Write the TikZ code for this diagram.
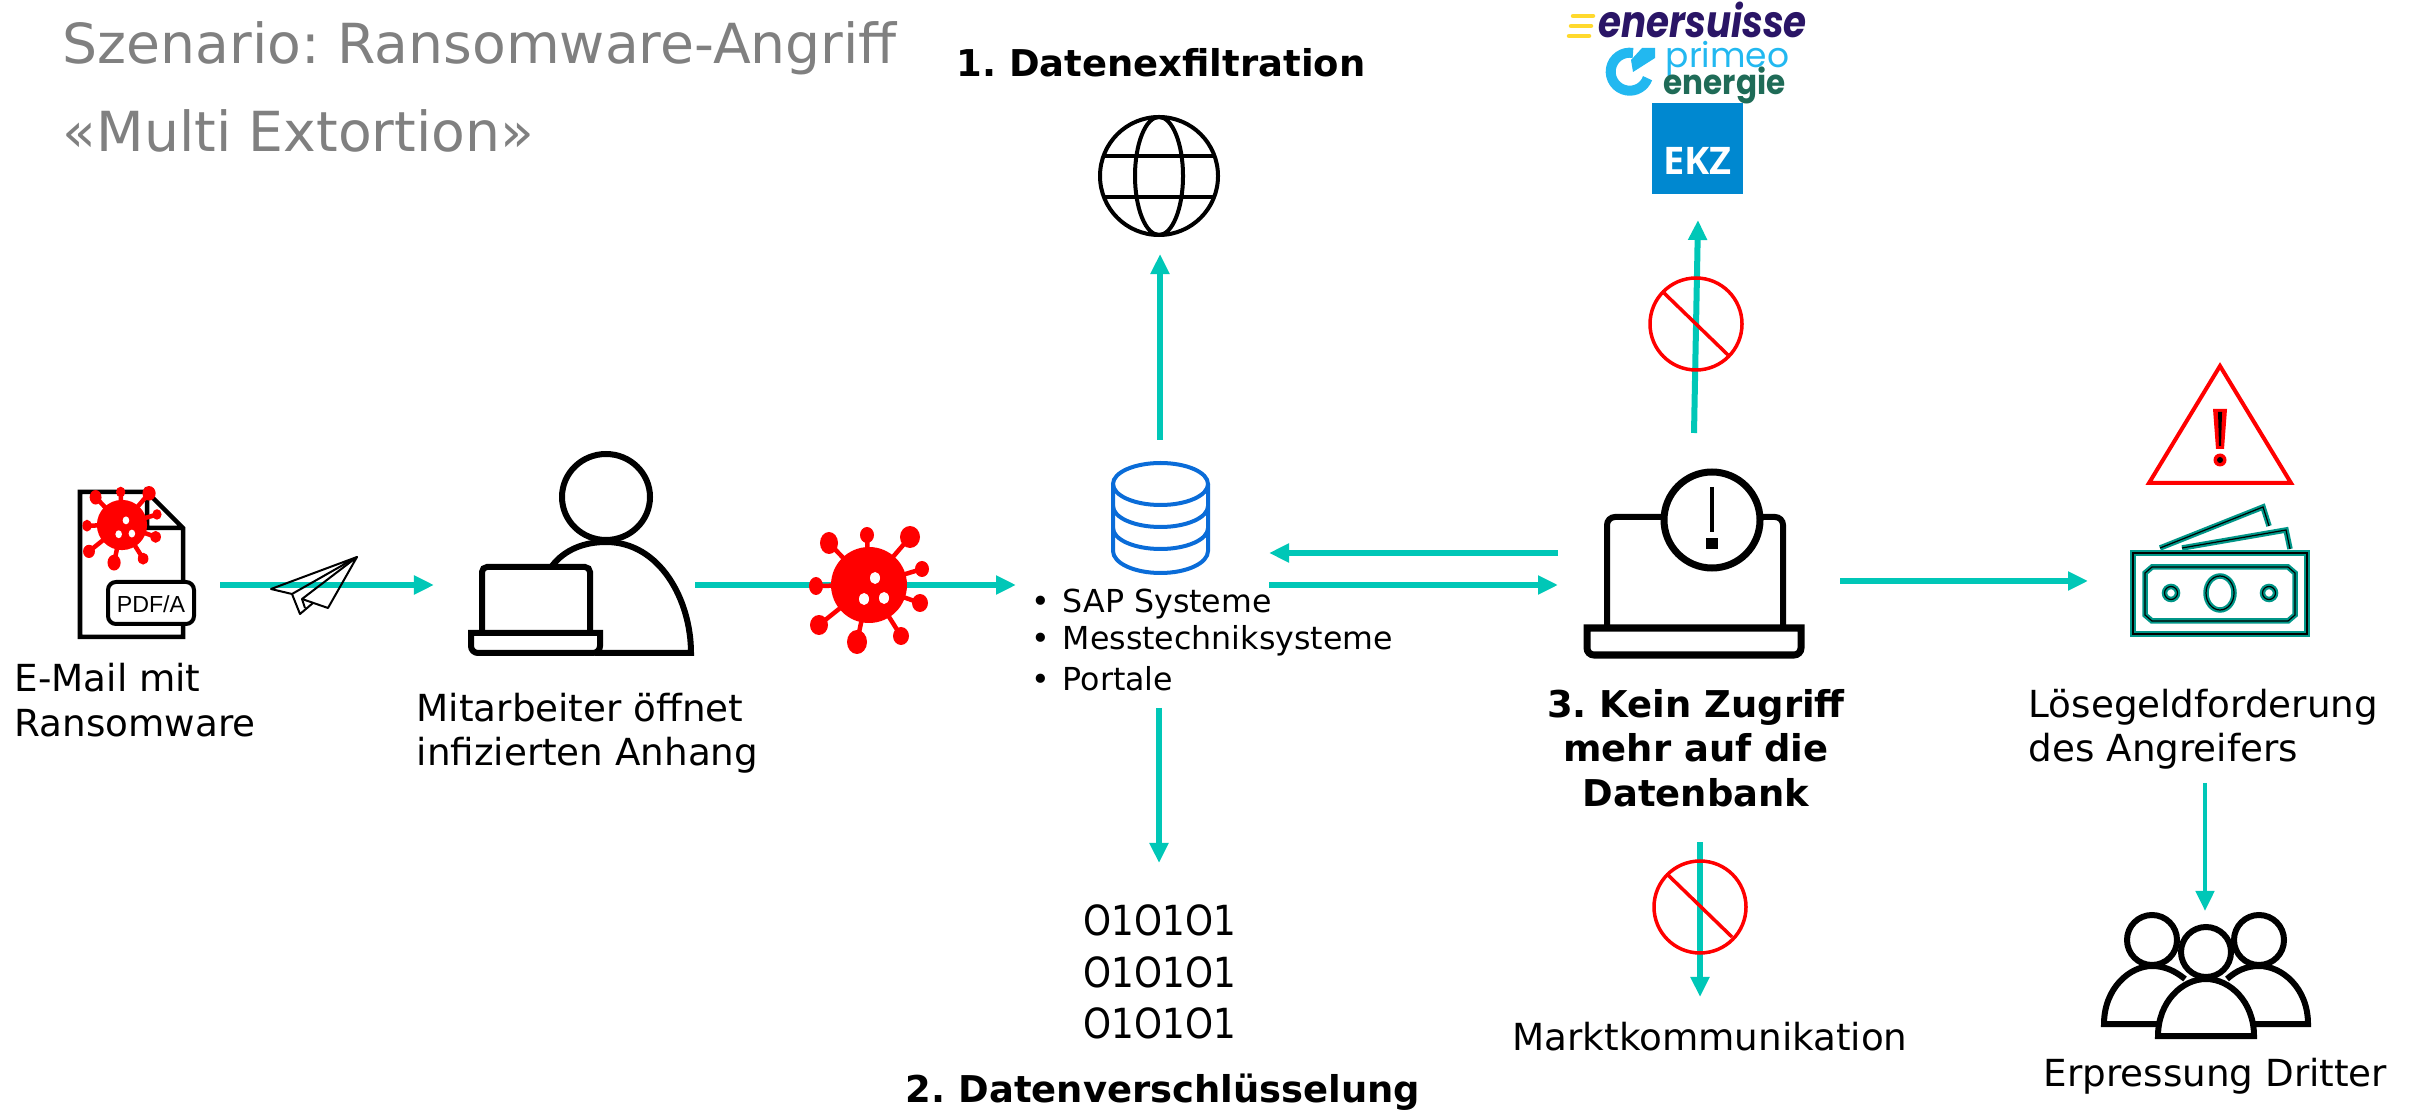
\documentclass[tikz,border=0pt]{standalone}
\usepackage{graphicx}
\usepackage{fontspec}
\setmainfont{DejaVu Sans}
\newfontfamily\logofont{Poppins}
\newfontfamily\ekzfont{Open Sans}
\frenchspacing
\usetikzlibrary{arrows.meta,calc}
\definecolor{flow}{RGB}{0,199,183}
\definecolor{stopred}{RGB}{255,0,0}
\definecolor{dbblue}{RGB}{10,108,216}
\definecolor{moneyteal}{RGB}{0,150,136}
\definecolor{ekzblue}{RGB}{0,136,208}
\definecolor{enerpurple}{RGB}{42,21,102}
\definecolor{primeoblue}{RGB}{34,184,240}
\definecolor{primeogreen}{RGB}{31,107,87}
\definecolor{eneryellow}{RGB}{255,217,45}
\tikzset{
  flowarrow/.style={draw=flow,line width=0.06cm,-{Triangle[length=0.2cm,width=0.18cm]},flow},
  thinflow/.style={flowarrow,line width=0.045cm},
  icon/.style={draw=black,line width=0.06cm},
  dbline/.style={draw=dbblue,line width=0.04cm},
  globeline/.style={draw=black,line width=0.04cm},
  forbid/.style={draw=stopred,line width=0.035cm},
  bodytext/.style={anchor=west,align=left,inner sep=0pt,font=\fontsize{10.6pt}{12.6pt}\selectfont},
  listtext/.style={anchor=west,inner sep=0pt,font=\fontsize{9pt}{11pt}\selectfont},
  headtext/.style={inner sep=0pt,align=center,font=\fontsize{10.5pt}{12.6pt}\selectfont\bfseries},
  titletext/.style={anchor=west,inner sep=0pt,text=black!50,font=\fontsize{15.7pt}{18pt}\selectfont},
  logotext/.style={inner sep=0pt,anchor=base west},
  virus/.pic={
    \foreach \tx/\ty/\rx/\ry in {-40/-42/9/11,-2/-50/7/8,41/-48/10/11,53/-16/7/8,51/18/8/9,32/51/8/9,-12/57/10/12,-50/40/9/10,-53/1/7/9}{
      \draw[stopred,line width=0.045cm] (0,0) -- (\tx,\ty);
      \fill[stopred] (\tx,\ty) ellipse [x radius=\rx,y radius=\ry];
    }
    \fill[stopred] (0,0) ellipse [x radius=38,y radius=38];
    \foreach \tx/\ty in {6/-7,-5/14,15/13}
      \fill[white] (\tx,\ty) ellipse [x radius=5,y radius=6];
  }
}
\begin{document}
\begin{tikzpicture}[x=0.01cm,y=-0.01cm]
\useasboundingbox (0,0) rectangle (2418,1110);

% Title
\node[titletext] (title1) at (62,48) {Szenario: Ransomware-Angriff};
\node[titletext] (title2) at (62,131) {«Multi Extortion»};

% Arrow ends
\coordinate (mailout) at (220,585);
\coordinate (personin) at (434,585);
\coordinate (personout) at (695,585);
\coordinate (dbin) at (1016,585);
\coordinate (dbtoplap) at (1269,585);
\coordinate (lapfromdb) at (1558,585);
\coordinate (laptodb) at (1558,553);
\coordinate (dbfromlap) at (1269,553);
\coordinate (dbup) at (1160,440);
\coordinate (globein) at (1160,254);
\coordinate (dbdown) at (1159,708);
\coordinate (bitsin) at (1159,863);
\coordinate (lapup) at (1694,433);
\coordinate (logoin) at (1698,220);
\coordinate (lapdown) at (1700,842);
\coordinate (marktin) at (1700,997);
\coordinate (lapout) at (1840,581);
\coordinate (moneyin) at (2088,581);
\coordinate (demandout) at (2205,783);
\coordinate (peoplein) at (2205,911);

% Connectors
\draw[flowarrow] (mailout) -- (personin);
\draw[flowarrow] (personout) -- (dbin);
\draw[flowarrow] (dbtoplap) -- (lapfromdb);
\draw[flowarrow] (laptodb) -- (dbfromlap);
\draw[flowarrow] (dbup) -- (globein);
\draw[flowarrow] (dbdown) -- (bitsin);
\draw[flowarrow] (lapup) -- (logoin);
\draw[flowarrow] (lapdown) -- (marktin);
\draw[flowarrow] (lapout) -- (moneyin);
\draw[thinflow] (demandout) -- (peoplein);

% Document with virus
\draw[icon,line width=0.045cm] (147,492) -- (80,492) -- (80,637) -- (183,637) -- (183,528) -- (147,492) -- (147,528) -- (183,528);
\draw[icon,line width=0.04cm,fill=white,rounded corners=0.08cm] (108,582) rectangle (194,624);
\node[inner sep=0pt,font=\fontsize{6.6pt}{8pt}\selectfont\fontspec{Liberation Sans}] (pdfa) at (151,604) {PDF/A};
\pic[scale=.66] at (122,525) {virus};
\node[bodytext] (mail) at (14,700) {E-Mail mit\\Ransomware};

% Paper plane
\draw[black,line width=0.02cm,line join=round] (357,557) -- (271,589) -- (292,594) -- cycle;
\draw[black,line width=0.02cm,line join=round] (292,594) -- (300,614) -- (313,603);
\draw[black,line width=0.02cm,line join=round] (357,557) -- (302,599) -- (328,608) -- cycle;
\draw[black,line width=0.02cm] (302,599) -- (305,608);

% Person at laptop
\draw[icon] (606,497) ellipse [x radius=44,y radius=43];
\draw[icon] (552,566) .. controls (565,549) and (585,542) .. (606,542) .. controls (660,542) and (691,600) .. (691,653) -- (595,653);
\draw[icon,fill=white,rounded corners=0.05cm] (482,633) -- (482,567) -- (590,567) -- (590,633);
\draw[icon,fill=white] (471,633) [rounded corners=0.07cm] -- (471,653) -- (600,653) [sharp corners] -- (600,633) -- cycle;
\node[bodytext] (victim) at (416,733) {Mitarbeiter öffnet\\infizierten Anhang};

% Virus on the way
\pic at (869,585) {virus};

% Database
\draw[dbline] (1113,484) -- (1113,551) arc[start angle=180,end angle=0,x radius=47.5,y radius=22] -- (1208,484);
\draw[dbline] (1160.5,484) ellipse [x radius=47.5,y radius=21];
\foreach \ybar in {506,528}
  \draw[dbline] (1113,\ybar) arc[start angle=180,end angle=0,x radius=47.5,y radius=21];
\node[listtext] (sap) at (1031,604) {\makebox[0.31cm][l]{\small •}SAP Systeme};
\node[listtext] (mess) at (1031,641) {\makebox[0.31cm][l]{\small •}Messtechniksysteme};
\node[listtext] (port) at (1031,679) {\makebox[0.31cm][l]{\small •}Portale};

% Exfiltration
\node[headtext] (exfil) at (1161,63) {1. Datenexfiltration};
\draw[globeline] (1159,176) circle [radius=59];
\draw[globeline] (1159,176) ellipse [x radius=24,y radius=59];
\draw[globeline] (1104,156) -- (1214,156);
\draw[globeline] (1104,197) -- (1214,197);

% Encryption
\foreach \ybit in {920,972,1023}
  \node[inner sep=0pt,font=\fontsize{11.8pt}{12pt}\selectfont] at (1160,\ybit) {\scalebox{.86}[1]{O1O1O1}};
\node[headtext] (crypt) at (1163,1092) {2. Datenverschlüsselung};

% Logos
\fill[ekzblue] (1652,103) rectangle (1743,194);
\node[inner sep=0pt,text=white,font=\fontsize{10.8pt}{12pt}\selectfont\ekzfont\bfseries] (ekz) at (1697.5,161) {EKZ};
\draw[primeoblue,line width=0.1cm] (1633,53) arc[start angle=-80,end angle=-340,radius=19];
\fill[primeoblue] (1642,48) -- (1655,48) -- (1655,58) -- (1633,72) -- (1631,60) -- cycle;
\node[logotext,text=primeoblue,font=\fontsize{9.8pt}{10pt}\selectfont\logofont] (primeo) at (1665,68) {primeo};
\node[logotext,text=primeogreen,font=\fontsize{9.8pt}{11pt}\selectfont\logofont\bfseries] (energie) at (1663,95) {\scalebox{.9}[1]{energie}};
\node[logotext,text=enerpurple,font=\fontsize{12.6pt}{13pt}\selectfont\logofont\bfseries\itshape] (ener) at (1598,38) {\scalebox{.84}[1]{enersuisse}};
\foreach \ybar/\xend in {16/1593,26/1591,36/1589}
  \draw[eneryellow,line width=0.045cm,line cap=round] (\xend-20,\ybar) -- (\xend,\ybar);

% Forbidden signs
\draw[forbid] (1696,324) circle [radius=46];
\draw[forbid] (1664,293) -- (1728,355);
\draw[forbid] (1700,907) circle [radius=46];
\draw[forbid] (1668,875) -- (1732,937);

% Laptop with warning
\draw[icon,rounded corners=0.08cm] (1607,628) -- (1607,517) -- (1783,517) -- (1783,628);
\draw[icon,line width=0.07cm] (1587,628) [rounded corners=0.07cm] -- (1587,655) -- (1801,655) [sharp corners] -- (1801,628) -- cycle;
\draw[icon,line width=0.07cm,fill=white] (1712,520) circle [radius=48];
\draw[black,line width=0.04cm] (1712,487) -- (1712,532);
\fill[black] (1706,538) rectangle (1718,549);
\node[headtext] (noaccess) at (1696,748) {3. Kein Zugriff\\mehr auf die\\Datenbank};
\node[bodytext,anchor=center] (markt) at (1710,1037) {Marktkommunikation};

% Ransom demand
\draw[forbid,line width=0.04cm,line join=miter] (2220,366) -- (2291,483) -- (2149,483) -- cycle;
\fill[stopred] (2213,409) -- (2227,409) -- (2224,449) -- (2216,449) -- cycle;
\fill[stopred] (2220,460) circle [radius=6.5];
\fill[black] (2218,412) -- (2222,412) -- (2221,446) -- (2219,446) -- cycle;
\fill[black] (2220,460) circle [radius=3];
\foreach \col/\lw in {moneyteal/0.055cm,black/0.012cm}{
  \draw[\col,line width=\lw] (2133,553) rectangle (2307,634);
  \draw[\col,line width=\lw] (2152,567) -- (2288,567) -- (2295,573) -- (2295,615) -- (2288,621) -- (2152,621) -- (2145,615) -- (2145,573) -- cycle;
  \draw[\col,line width=\lw] (2220,593) ellipse [x radius=14,y radius=17];
  \draw[\col,line width=\lw] (2171,593) circle [radius=6.5];
  \draw[\col,line width=\lw] (2269,593) circle [radius=6.5];
  \draw[\col,line width=\lw] (2160,548) -- (2263,507) -- (2269,526);
  \draw[\col,line width=\lw] (2182,548) -- (2286,530) -- (2290,549);
}
\node[bodytext] (demand) at (2028,729) {Lösegeldforderung\\des Angreifers};

% Third parties
\draw[icon] (2152,940) circle [radius=25];
\draw[icon] (2259,940) circle [radius=25];
\draw[icon] (2160,1024) -- (2104,1024) .. controls (2104,988) and (2130,966) .. (2152,966) .. controls (2165,966) and (2175,971) .. (2185,979);
\draw[icon] (2250,1024) -- (2308,1024) .. controls (2308,988) and (2282,966) .. (2259,966) .. controls (2246,966) and (2236,971) .. (2227,979);
\draw[icon] (2206,952) circle [radius=25];
\draw[icon,fill=white] (2158,1036) .. controls (2158,1002) and (2182,979) .. (2206,979) .. controls (2230,979) and (2254,1002) .. (2254,1036) -- cycle;
\node[bodytext] (third) at (2043,1076) {Erpressung Dritter};
\end{tikzpicture}
\end{document}
